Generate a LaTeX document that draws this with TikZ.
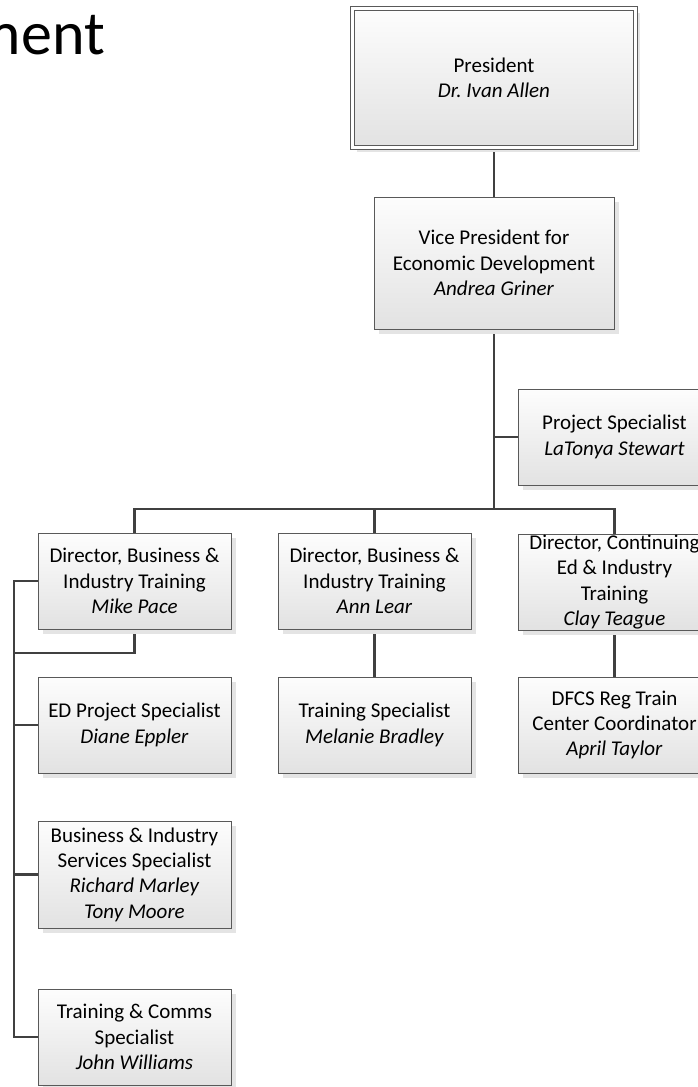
\documentclass[tikz,border=0pt]{standalone}
\usepackage{fontspec}
\setmainfont{Carlito}
\usetikzlibrary{shadows,backgrounds}
\frenchspacing
\definecolor{boxline}{HTML}{595959}
\definecolor{conncol}{HTML}{404040}
\definecolor{topc}{HTML}{FDFDFD}
\definecolor{botc}{HTML}{E2E2E2}
\definecolor{shadc}{HTML}{E4E4E4}
\begin{document}
\begin{tikzpicture}[x=1pt,y=-1pt,
  orgbox/.style={rectangle, draw=boxline, line width=0.9pt, top color=topc, bottom color=botc,
    minimum width=193pt, minimum height=96pt, inner sep=0pt, align=center,
    font=\fontsize{21}{25.3}\selectfont,
    drop shadow={shadow xshift=4.5pt, shadow yshift=-4.5pt, fill=shadc, opacity=1}},
  conn/.style={draw=conncol, line width=2.9pt}]
\clip (0,0) rectangle (698,1087);
\useasboundingbox (0,0) rectangle (698,1087);

\node[font=\fontsize{62}{70}\selectfont, anchor=base east, inner sep=0pt] (title) at (105,54) {ment};

\node[orgbox, double=white, double distance=3.4pt, line width=0.8pt,
  minimum width=283.5pt, minimum height=138.5pt] (pres) at (494,78) {President\\\textit{Dr. Ivan Allen}};
\node[orgbox, minimum width=240pt, minimum height=132pt] (vp) at (494,263)
  {Vice President for\\Economic Development\\\textit{Andrea Griner}};
\node[orgbox] (ps) at (614.5,437) {Project Specialist\\\textit{LaTonya Stewart}};

\node[orgbox] (dir1) at (134.5,581) {Director, Business \&\\Industry Training\\\textit{Mike Pace}};
\node[orgbox] (dir2) at (374.5,581) {Director, Business \&\\Industry Training\\\textit{Ann Lear}};
\node[orgbox] (dir3) at (614.5,582) {Director, Continuing\\Ed \& Industry\\Training\\\textit{Clay Teague}};

\node[orgbox] (ed) at (134.5,725) {ED Project Specialist\\\textit{Diane Eppler}};
\node[orgbox] (ts) at (374.5,725) {Training Specialist\\\textit{Melanie Bradley}};
\node[orgbox] (dfcs) at (614.5,725) {DFCS Reg Train\\Center Coordinator\\\textit{April Taylor}};

\node[orgbox, minimum height=107pt] (bis) at (134.5,874.5)
  {Business \& Industry\\Services Specialist\\\textit{Richard Marley}\\\textit{Tony Moore}};
\node[orgbox] (tc) at (134.5,1037) {Training \& Comms\\Specialist\\\textit{John Williams}};

\coordinate (bus) at (494,509);
\coordinate (railtop) at (14,581);
\coordinate (elbow) at (14,653);
\coordinate (railbot) at (14,1037);

\begin{scope}[on background layer]
\draw[conn] (pres.south) -- (vp.north);
\draw[conn] (vp.south) -- (bus);
\draw[conn] (dir1.north) |- (bus) -| (dir3.north);
\draw[conn] (bus) -| (dir2.north);
\draw[conn] (ps.west) -- (ps.west -| bus);
\draw[conn] (dir1.west) -- (railtop) -- (railbot) -- (tc.west);
\draw[conn] (dir1.south) |- (elbow);
\draw[conn] (ed.west) -- (ed.west -| railtop);
\draw[conn] (bis.west) -- (bis.west -| railtop);
\draw[conn] (dir2.south) -- (ts.north);
\draw[conn] (dir3.south) -- (dfcs.north);
\end{scope}
\end{tikzpicture}
\end{document}
